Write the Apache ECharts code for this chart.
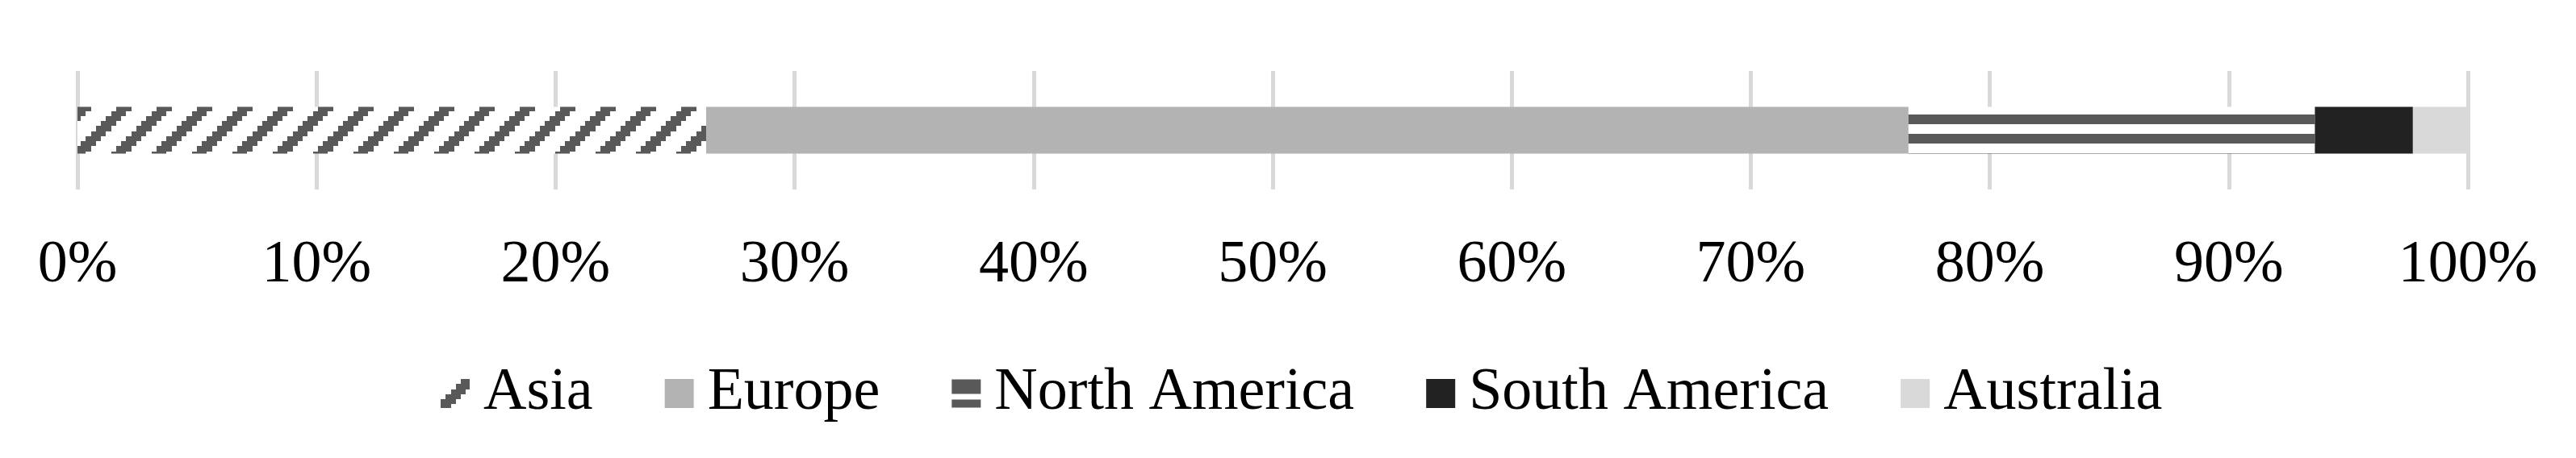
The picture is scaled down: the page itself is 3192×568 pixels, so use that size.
<!DOCTYPE html>
<html>
<head>
<meta charset="utf-8">
<script src="https://cdn.jsdelivr.net/npm/echarts@6/dist/echarts.min.js"></script>
<style>
  html, body { margin: 0; padding: 0; background: #fff; }
  #chart { width: 3192px; height: 568px; }
</style>
</head>
<body>
<div id="chart"></div>
<script>
var categories = ['Share'];
var seriesNames = ['Asia', 'Europe', 'North America', 'South America', 'Australia'];
var asiaValues = [26.3];
var europeValues = [50.3];
var northAmericaValues = [17.0];
var southAmericaValues = [4.1];
var australiaValues = [2.3];
var tickLabels = ['0%', '10%', '20%', '30%', '40%', '50%', '60%', '70%', '80%', '90%', '100%'];

// upward diagonal hatch, like the office "wide upward diagonal" fill
function makeHatch() {
    var cv = document.createElement('canvas');
    cv.width = 50; cv.height = 50;
    var ctx = cv.getContext('2d');
    ctx.fillStyle = '#fff';
    ctx.fillRect(0, 0, 50, 50);
    ctx.fillStyle = '#595959';
    var cell = 50 / 8;
    for (var r = 0; r < 8; r++) {
        for (var c = 0; c < 8; c++) {
            var k = (c + r) % 8;
            if (k >= 4 && k <= 6) {
                var x0 = Math.round(c * cell), x1 = Math.round((c + 1) * cell);
                var y0 = Math.round(r * cell), y1 = Math.round((r + 1) * cell);
                ctx.fillRect(x0, y0, x1 - x0, y1 - y0);
            }
        }
    }
    return cv;
}

// wide horizontal stripes
function makeStripes() {
    var cv = document.createElement('canvas');
    cv.width = 24; cv.height = 24;
    var ctx = cv.getContext('2d');
    ctx.fillStyle = '#fff';
    ctx.fillRect(0, 0, 24, 24);
    ctx.fillStyle = '#595959';
    ctx.fillRect(0, 0, 24, 10);
    ctx.fillRect(0, 22, 24, 2);
    return cv;
}

var asiaFill = { image: makeHatch(), repeat: 'repeat' };
var naFill = { image: makeStripes(), repeat: 'repeat' };
// two thick bars for the north america legend swatch
var naLegendIcon = 'path://M0,0h36v18h-36z M0,25h36v10h-36z';

var fontFam = '"Liberation Serif", "Times New Roman", serif';

function barSeries(name, values, color) {
    return {
        name: name,
        type: 'bar',
        stack: 'total',
        barWidth: 58,
        data: values,
        itemStyle: { color: color },
        emphasis: { disabled: true }
    };
}

var legendData = seriesNames.map(function (n) {
    if (n === 'North America') return { name: n, icon: naLegendIcon, itemStyle: { color: '#595959' } };
    return { name: n };
});

var chart = echarts.init(document.getElementById('chart'));
var option = {
    animation: false,
    backgroundColor: '#fff',
    grid: { left: 96, right: 134, top: 88, bottom: 333 },
    legend: {
        data: legendData,
        top: 446,
        left: 541,
        icon: 'rect',
        itemWidth: 36,
        itemHeight: 36,
        itemGap: 89,
        textStyle: { fontFamily: fontFam, fontSize: 74, color: '#000', padding: [0, 0, 0, 12] }
    },
    xAxis: {
        type: 'value',
        min: 0,
        max: 100,
        interval: 10,
        axisLine: { show: false },
        axisTick: { show: false },
        splitLine: { show: true, lineStyle: { color: '#d9d9d9', width: 5 } },
        axisLabel: {
            margin: 58,
            fontFamily: fontFam,
            fontSize: 74,
            color: '#000',
            formatter: function (v) { return tickLabels[Math.round(v / 10)]; }
        }
    },
    yAxis: {
        type: 'category',
        data: categories,
        show: false
    },
    series: [
        barSeries(seriesNames[0], asiaValues, asiaFill),
        barSeries(seriesNames[1], europeValues, '#b3b3b3'),
        barSeries(seriesNames[2], northAmericaValues, naFill),
        barSeries(seriesNames[3], southAmericaValues, '#222222'),
        barSeries(seriesNames[4], australiaValues, '#d9d9d9')
    ]
};
chart.setOption(option);
</script>
</body>
</html>
